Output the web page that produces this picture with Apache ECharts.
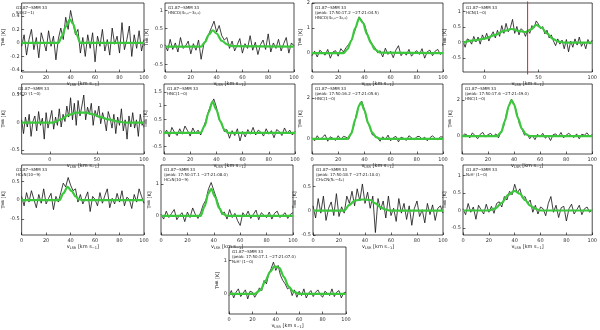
<!DOCTYPE html>
<html>
<head>
<meta charset="utf-8">
<script src="https://cdn.jsdelivr.net/npm/echarts@6/dist/echarts.min.js"></script>
<style>
  html, body { margin: 0; padding: 0; background: #fff; }
  #chartmain { width: 600px; height: 330px; }
</style>
</head>
<body>
<div id="chartmain"></div>
<script>
// spectra, 2 km/s channels, T_MB in K
var specSiO = [
  -0.05, 0.12,-0.18, 0.05, 0.20,-0.10, 0.08,-0.22, 0.15, 0.02,
  -0.12, 0.18,-0.05, 0.10,-0.25, 0.06, 0.22, 0.05, 0.38, 0.20,
   0.48, 0.30, 0.12, 0.20,-0.15, 0.08,-0.20, 0.12,-0.08, 0.15,
  -0.28, 0.10,-0.05, 0.20,-0.12, 0.05,-0.18, 0.22,-0.02, 0.10,
  -0.15, 0.30,-0.10, 0.05, 0.25,-0.20, 0.12,-0.08, 0.18,-0.12,
   0.05];
var specHNCO = [
   0.05,-0.12, 0.20,-0.08, 0.10,-0.15, 0.25,-0.05, 0.02, 0.15,
  -0.20, 0.08,-0.10, 0.18,-0.35, 0.05, 0.22, 0.35, 0.52, 0.70,
   0.40, 0.58, 0.30, 0.18, 0.25,-0.05, 0.15,-0.12, 0.05, 0.22,
  -0.18, 0.08,-0.05, 0.30,-0.10, 0.12,-0.22, 0.05, 0.18,-0.08,
   0.35,-0.15, 0.10,-0.05, 0.20,-0.12, 0.08, 0.25,-0.18, 0.10,
   0.02];
var specHNCOpk = [
  -0.10, 0.08,-0.15, 0.12, 0.02,-0.08, 0.15,-0.20, 0.05, 0.10,
  -0.12, 0.18, 0.05, 0.22, 0.35, 0.50, 0.78, 1.10, 1.45, 1.30,
   1.15, 0.80, 0.55, 0.35, 0.22, 0.02, 0.10,-0.15, 0.20,-0.05,
   0.08,-0.18, 0.12, 0.30,-0.10, 0.05,-0.08, 0.15,-0.12, 0.02,
   0.10,-0.05, 0.18,-0.20, 0.06, 0.12,-0.10, 0.08, 0.15,-0.05,
   0.05];
var specHCN = [
   0.05,-0.15, 0.12, 0.08,-0.05, 0.20, 0.02, 0.18,-0.05, 0.25,
   0.10, 0.30, 0.05, 0.22, 0.35, 0.15, 0.40, 0.20, 0.55, 0.30,
   0.62, 0.35, 0.48, 0.75, 0.30, 0.52, 0.25, 0.45, 0.38, 0.20,
   0.42, 0.30, 0.55, 0.48, 0.70, 0.60, 0.45, 0.52, 0.28, 0.40,
   0.15, 0.25, 0.05,-0.10, 0.12,-0.05, 0.08,-0.20, 0.10,-0.30,
   0.05,-0.15, 0.12,-0.08, 0.18,-0.12, 0.02,-0.20, 0.10,-0.05,
   0.08];
var specHCOp = [
   0.05,-0.20, 0.10,-0.08, 0.15,-0.25, 0.02, 0.12,-0.15, 0.20,
  -0.05, 0.08,-0.30, 0.18,-0.10, 0.05, 0.22,-0.12, 0.10,-0.05,
   0.25,-0.08, 0.15, 0.02, 0.30, 0.10, 0.45, 0.05, 0.35,-0.05,
   0.40, 0.12, 0.30, 0.50, 0.05, 0.28, 0.15, 0.35,-0.05, 0.22,
   0.10, 0.30,-0.02, 0.18, 0.05,-0.15, 0.20, 0.08,-0.10, 0.15,
  -0.20, 0.10,-0.05, 0.25,-0.15, 0.05,-0.30, 0.12,-0.08, 0.18,
  -0.10, 0.05,-0.25, 0.15,-0.05, 0.02];
var specHNC = [
  -0.05, 0.10,-0.15, 0.20, 0.02,-0.10, 0.15,-0.05, 0.25, 0.08,
  -0.12, 0.18,-0.02, 0.10,-0.08, 0.20, 0.45, 0.80, 1.05, 1.25,
   0.95, 0.50, 0.35, 0.05, 0.12,-0.20, 0.08,-0.10, 0.15,-0.30,
   0.05,-0.15, 0.12,-0.05, 0.20,-0.08, 0.10, 0.02,-0.12, 0.15,
  -0.05, 0.08,-0.18, 0.12, 0.05,-0.10, 0.18,-0.02, 0.10,-0.08,
   0.05];
var specHNCpk1 = [
   0.05,-0.10, 0.15,-0.05, 0.08, 0.20,-0.12, 0.10, 0.02,-0.08,
   0.15,-0.05, 0.12, 0.08,-0.02, 0.30, 0.65, 1.25, 1.65, 1.85,
   1.45, 0.90, 0.60, 0.20, 0.15, 0.05,-0.12, 0.10,-0.05, 0.18,
  -0.10, 0.05, 0.12,-0.15, 0.08, 0.02,-0.08, 0.15, 0.05,-0.05,
   0.10, 0.12,-0.02, 0.08,-0.10, 0.05, 0.15, 0.02,-0.05, 0.10,
   0.08];
var specHNCpk2 = [
  -0.05, 0.12, 0.05,-0.10, 0.18, 0.02,-0.15, 0.10, 0.20,-0.05,
   0.08, 0.15,-0.02, 0.12,-0.10, 0.25, 0.55, 1.20, 1.70, 2.05,
   1.80, 1.30, 0.70, 0.40, 0.05, 0.12,-0.15, 0.05,-0.20, 0.10,
  -0.05, 0.15,-0.12, 0.02,-0.25, 0.08, 0.12,-0.05, 0.20,-0.10,
   0.05, 0.15, 0.02,-0.08, 0.12,-0.15, 0.10, 0.05, 0.18,-0.02,
   0.08];
var specHC3N = [
   0.10,-0.15, 0.20,-0.05, 0.25, 0.02,-0.20, 0.15,-0.08, 0.30,
  -0.10, 0.05, 0.18,-0.25, 0.10,-0.05, 0.20, 0.45, 0.35, 0.60,
   0.40, 0.25, 0.30,-0.05, 0.15,-0.10, 0.05, 0.22,-0.30, 0.10,
   0.02,-0.15, 0.20,-0.08, 0.12, 0.30,-0.20, 0.05,-0.10, 0.18,
  -0.05, 0.25,-0.15, 0.08, 0.02,-0.22, 0.15,-0.05, 0.30, 0.10,
  -0.08];
var specHC3Npk = [
   0.05,-0.10, 0.15,-0.05, 0.08, 0.20,-0.12, 0.02, 0.10,-0.18,
   0.12,-0.05, 0.25, 0.05,-0.08, 0.10, 0.35, 0.50, 0.85, 1.05,
   0.80, 0.55, 0.30, 0.05, 0.12,-0.10, 0.20,-0.05, 0.08,-0.15,
  -0.30, 0.10,-0.02, 0.15,-0.08, 0.05, 0.18,-0.12, 0.10, 0.02,
  -0.05, 0.12,-0.10, 0.08, 0.15,-0.05, 0.02, 0.10,-0.08, 0.05,
   0.10];
var specCH3CN = [
   0.10,-0.15, 0.25,-0.05, 0.30,-0.20, 0.05, 0.18,-0.10, 0.35,
  -0.12, 0.08,-0.05, 0.30, 0.15, 0.40, 0.10, 0.45, 0.20, 0.55,
   0.15, 0.38, 0.05, 0.30,-0.45, 0.25, 0.02, 0.20,-0.15, 0.30,
  -0.10, 0.05,-0.22, 0.25,-0.05, 0.15,-0.18, 0.10,-0.30, 0.05,
   0.20,-0.12, 0.02,-0.25, 0.15,-0.08, 0.12,-0.20, 0.05, 0.10,
  -0.05];
var specN2H = [
   0.05,-0.12, 0.20,-0.05, 0.10,-0.25, 0.15, 0.02,-0.10, 0.18,
  -0.05, 0.12,-0.08, 0.20, 0.25, 0.10, 0.40, 0.30, 0.55, 0.45,
   0.75, 0.50, 0.62, 0.35, 0.40, 0.20, 0.30,-0.05, 0.15,-0.10,
   0.10, 0.05,-0.15, 0.20, 0.40,-0.05, 0.15,-0.20, 0.08, 0.12,
  -0.30, 0.05, 0.18,-0.10, 0.02, 0.15,-0.12, 0.05, 0.10,-0.05,
   0.02];
var specN2Hpk = [
  -0.05, 0.10,-0.12, 0.05, 0.15,-0.08, 0.02, 0.12,-0.15, 0.08,
   0.05,-0.10, 0.02, 0.18, 0.10, 0.40, 0.30, 0.60, 0.75, 0.95,
   0.70, 0.85, 0.55, 0.40, 0.30, 0.15, 0.20,-0.05, 0.12,-0.10,
   0.08,-0.05, 0.15,-0.12, 0.02, 0.10,-0.08, 0.05, 0.12,-0.02,
  -0.10, 0.08, 0.02,-0.05, 0.15,-0.08, 0.05, 0.10,-0.12, 0.03,
   0.05];

// gaussian fits [v, T]
var fitSiO = [[0,0],[30,0],[33,0.1],[36,0.24],[39.5,0.35],[42,0.28],[45,0.12],[48,0],[100,0]];
var fitHNCO = [[0,0],[28,0],[31,0.12],[34,0.33],[37,0.45],[40,0.36],[44,0.16],[48,0.06],[52,0.01],[100,0]];
var fitHNCOpk = [[0,0],[24,0],[27,0.15],[30,0.5],[33,1.0],[36,1.4],[39,1.2],[42,0.75],[45,0.4],[48,0.15],[52,0.02],[100,0]];
var fitHCN = [[-20,0],[-10,0.07],[0,0.13],[10,0.25],[18,0.38],[25,0.44],[32,0.38],[38,0.34],[43,0.42],[48,0.57],[53,0.48],[58,0.3],[63,0.13],[68,0.04],[74,0],[100,0]];
var fitHCOp = [[-30,0],[4,0],[12,0.06],[20,0.14],[28,0.18],[38,0.18],[46,0.15],[54,0.1],[62,0.06],[72,0.02],[80,0],[100,0]];
var fitHNC = [[0,0],[28,0],[31,0.25],[34,0.75],[37,1.15],[40,0.85],[43,0.42],[46,0.12],[49,0],[100,0]];
var fitHNCpk1 = [[0,0],[27,0],[30,0.25],[33,0.95],[36,1.65],[37.5,1.8],[40,1.4],[43,0.75],[46,0.3],[49,0.08],[52,0],[100,0]];
var fitHNCpk2 = [[0,0],[27,0],[30,0.2],[33,0.85],[36,1.7],[38,2.0],[40,1.75],[43,1.0],[46,0.4],[49,0.1],[52,0],[100,0]];
var fitHC3N = [[0,0],[31,0],[34,0.18],[37.5,0.35],[41,0.24],[44,0.1],[47,0.02],[50,0],[100,0]];
var fitHC3Npk = [[0,0],[30,0],[33,0.3],[36,0.72],[38,0.85],[41,0.6],[44,0.25],[47,0.06],[50,0],[100,0]];
var fitCH3CN = [[0,0],[24,0],[28,0.12],[32,0.21],[38,0.23],[44,0.22],[48,0.15],[52,0.07],[56,0.02],[60,0],[100,0]];
var fitN2H = [[0,0],[20,0],[25,0.06],[30,0.22],[35,0.45],[40,0.56],[44,0.48],[48,0.3],[52,0.14],[56,0.05],[60,0],[100,0]];
var fitN2Hpk = [[0,0],[22,0],[27,0.12],[31,0.38],[35,0.65],[39,0.82],[43,0.78],[47,0.5],[51,0.22],[55,0.07],[60,0],[100,0]];

// red marker in the HCN panel (v = 40 km/s)
var redLineHCN = [[40, 1.33], [40, -1.03]];

// tick labels
var xTicks20 = [0, 20, 40, 60, 80, 100];
var xTicks50 = [0, 50, 100];

var src = 'G1.87\u2212SMM 33';
var panels = [
  {spec: specSiO, v0: 0, fit: fitSiO, txt: src + '\nSiO(2\u22121)', xr: [0,100], xt: xTicks20, yr: [-0.43,0.59], yt: [-0.4,-0.2,0,0.2,0.4], box: [13,3,131,69]},
  {spec: specHNCO, v0: 0, fit: fitHNCO, txt: src + '\nHNCO(4\u2080,\u2084\u22123\u2080,\u2083)', xr: [0,100], xt: xTicks20, yr: [-0.7,1.2], yt: [-0.5,0,0.5,1], box: [165,3,129,69]},
  {spec: specHNCOpk, v0: 0, fit: fitHNCOpk, txt: src + '\n(peak: 17:50:17.2 \u221227:21:04.5)\nHNCO(4\u2080,\u2084\u22123\u2080,\u2083)', xr: [0,100], xt: xTicks20, yr: [-0.75,2.0], yt: [0,1,2], box: [312,3,131,69]},
  {spec: specHCN, v0: -20, fit: fitHCN, txt: src + '\nHCN(1\u22120)', xr: [-20,100], xt: xTicks50, yr: [-0.95,1.28], yt: [-0.5,0,0.5,1], box: [463,3,130,69], mark: redLineHCN},
  {spec: specHCOp, v0: -30, fit: fitHCOp, txt: src + '\nHCO\u207A(1\u22120)', xr: [-30,100], xt: xTicks50, yr: [-0.57,0.7], yt: [-0.5,0,0.5], box: [15,84,129,70]},
  {spec: specHNC, v0: 0, fit: fitHNC, txt: src + '\nHNC(1\u22120)', xr: [0,100], xt: xTicks20, yr: [-0.78,1.8], yt: [-0.5,0,0.5,1,1.5], box: [164,84,131,70]},
  {spec: specHNCpk1, v0: 0, fit: fitHNCpk1, txt: src + '\n(peak: 17:50:16.2 \u221227:21:05.6)\nHNC(1\u22120)', xr: [0,100], xt: xTicks20, yr: [-0.75,2.7], yt: [0,2], box: [312,84,131,70]},
  {spec: specHNCpk2, v0: 0, fit: fitHNCpk2, txt: src + '\n(peak: 17:50:17.6 \u221227:21:49.0)\nHNC(1\u22120)', xr: [0,100], xt: xTicks20, yr: [-1.0,2.9], yt: [0,2], box: [462,84,131,70]},
  {spec: specHC3N, v0: 0, fit: fitHC3N, txt: src + '\nHC\u2083N(10\u22129)', xr: [0,100], xt: xTicks20, yr: [-0.92,0.93], yt: [-0.5,0,0.5], box: [13,165,131,70]},
  {spec: specHC3Npk, v0: 0, fit: fitHC3Npk, txt: src + '\n(peak: 17:50:17.1 \u221227:21:08.0)\nHC\u2083N(10\u22129)', xr: [0,100], xt: xTicks20, yr: [-0.6,1.6], yt: [0,1], box: [161,165,132,70]},
  {spec: specCH3CN, v0: 0, fit: fitCH3CN, txt: src + '\n(peak: 17:50:18.7 \u221227:21:10.0)\nCH\u2083CN(5\u2096\u22124\u2096)', xr: [0,100], xt: xTicks20, yr: [-0.5,0.94], yt: [-0.5,0,0.5], box: [313,165,130,70]},
  {spec: specN2H, v0: 0, fit: fitN2H, txt: src + '\nN\u2082H\u207A(1\u22120)', xr: [0,100], xt: xTicks20, yr: [-0.7,1.3], yt: [-0.5,0,0.5,1], box: [463,165,130,70]},
  {spec: specN2Hpk, v0: 0, fit: fitN2Hpk, txt: src + '\n(peak: 17:50:17.1 \u221227:21:07.0)\nN\u2082H\u207A(1\u22120)', xr: [0,100], xt: xTicks20, yr: [-0.6,1.4], yt: [0,1], box: [229,247,117,69]}
];
var vStep = 2;

var font = 'DejaVu Sans';
var grids = [], xAxes = [], yAxes = [], series = [], titles = [];

panels.forEach(function (p, k) {
    grids.push({left: p.box[0], top: p.box[1], width: p.box[2], height: p.box[3],
        show: true, borderColor: '#000', borderWidth: 0.7, backgroundColor: '#fff'});
    xAxes.push({
        type: 'value', gridIndex: k, min: p.xr[0], max: p.xr[1],
        name: '{n|v}{s|LSR}{n| [km s}{s|\u22121}{n|]}', nameLocation: 'middle', nameGap: 8,
        nameTextStyle: {rich: {n: {fontSize: 5, fontFamily: font, color: '#222'}, s: {fontSize: 3.5, fontFamily: font, color: '#222', padding: [3, 0, 0, 0]}}},
        axisLine: {show: false, onZero: false},
        axisTick: {inside: true, length: 2.5, customValues: p.xt, lineStyle: {color: '#000', width: 0.6}},
        axisLabel: {customValues: p.xt, fontSize: 5, fontFamily: font, color: '#333', margin: 3},
        splitLine: {show: false}
    });
    yAxes.push({
        type: 'value', gridIndex: k, min: p.yr[0], max: p.yr[1],
        name: '{n|T}{s|MB}{n| [K]}', nameLocation: 'middle', nameGap: 7, nameRotate: 90,
        nameTextStyle: {rich: {n: {fontSize: 5, fontFamily: font, color: '#222'}, s: {fontSize: 3.5, fontFamily: font, color: '#222'}}},
        axisLine: {show: false, onZero: false},
        axisTick: {inside: true, length: 2.5, customValues: p.yt, lineStyle: {color: '#000', width: 0.6}},
        axisLabel: {customValues: p.yt, fontSize: 5, fontFamily: font, color: '#333', margin: 2},
        splitLine: {show: false}
    });
    var pts = p.spec.map(function (t, i) { return [p.v0 + i * vStep, t]; });
    series.push({
        type: 'line', xAxisIndex: k, yAxisIndex: k, data: pts,
        symbol: 'none', silent: true, z: 2,
        lineStyle: {color: '#111', width: 0.8}
    });
    series.push({
        type: 'line', xAxisIndex: k, yAxisIndex: k, data: p.fit, smooth: 0.3,
        smoothMonotone: 'x', symbol: 'none', silent: true, z: 3,
        lineStyle: {color: '#3cc83c', width: 2.2}
    });
    if (p.mark) {
        series.push({
            type: 'line', xAxisIndex: k, yAxisIndex: k, data: p.mark, clip: false,
            symbol: 'none', silent: true, z: 4,
            lineStyle: {color: '#e02020', width: 1}
        });
    }
    titles.push({
        text: p.txt, left: p.box[0] + 3, top: p.box[1] + 2, padding: 0,
        textStyle: {fontSize: 4, lineHeight: 5, fontWeight: 'normal', fontFamily: font, color: '#222'}
    });
});

var option = {
    animation: false,
    backgroundColor: '#fff',
    title: titles,
    grid: grids,
    xAxis: xAxes,
    yAxis: yAxes,
    series: series
};

var myChart = echarts.init(document.getElementById('chartmain'));
myChart.setOption(option);
</script>
</body>
</html>
